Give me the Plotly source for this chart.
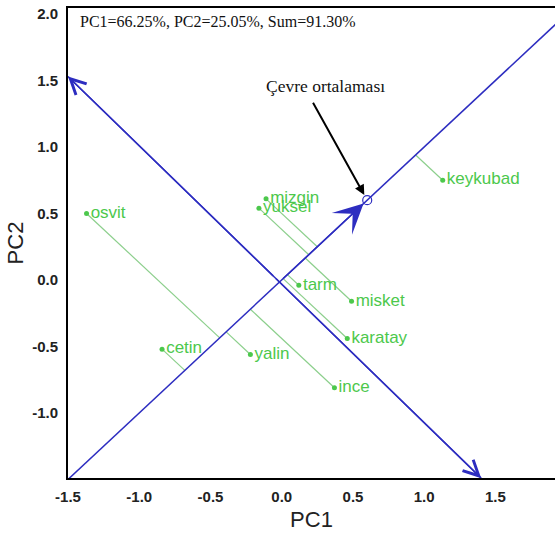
import plotly.graph_objects as go

# ---- data ----
genotypes = ["osvit", "mizgin", "yuksel", "tarm", "misket", "karatay",
             "cetin", "yalin", "ince", "keykubad"]
pc1 = [-1.37, -0.11, -0.16, 0.12, 0.49, 0.46, -0.84, -0.22, 0.37, 1.13]
pc2 = [0.50, 0.61, 0.54, -0.04, -0.16, -0.44, -0.52, -0.56, -0.81, 0.75]

env_mean = [0.60, 0.60]            # average environment (Çevre ortalaması)
ord_x = [-1.50, 1.40]              # AEC ordinate end points
ord_y = [1.53, -1.49]

x_ticks = [-1.5, -1.0, -0.5, 0.0, 0.5, 1.0, 1.5]
y_ticks = [-1.0, -0.5, 0.0, 0.5, 1.0, 1.5, 2.0]
x_range = [-1.5, 1.918]
y_range = [-1.489, 2.045]

info_text = "PC1=66.25%, PC2=25.05%, Sum=91.30%"
env_label = "Çevre ortalaması"

BLUE = "#2d2dc0"
GREEN = "#4cc84c"
LGREEN = "#8ccf8c"

# AEC abscissa direction
ex, ey = env_mean
n = (ex ** 2 + ey ** 2) ** 0.5
ux, uy = ex / n, ey / n

fig = go.Figure()

# projection lines of genotypes onto AEC abscissa
for gx, gy in zip(pc1, pc2):
    t = gx * ux + gy * uy
    fig.add_trace(go.Scatter(x=[gx, t * ux], y=[gy, t * uy], mode="lines",
                             line=dict(color=LGREEN, width=1.2),
                             hoverinfo="skip", showlegend=False))

# AEC abscissa (through origin and average environment)
fig.add_trace(go.Scatter(x=[-3 * ux, 3 * ux], y=[-3 * uy, 3 * uy], mode="lines",
                         line=dict(color=BLUE, width=1.5),
                         hoverinfo="skip", showlegend=False))
# AEC ordinate
fig.add_trace(go.Scatter(x=ord_x, y=ord_y, mode="lines",
                         line=dict(color=BLUE, width=1.5),
                         hoverinfo="skip", showlegend=False))

# average environment circle
fig.add_trace(go.Scatter(x=[ex], y=[ey], mode="markers",
                         marker=dict(symbol="circle-open", size=9,
                                     color=BLUE, line=dict(width=1.2)),
                         hoverinfo="skip", showlegend=False))

# genotype points
fig.add_trace(go.Scatter(x=pc1, y=pc2, mode="markers+text", text=genotypes,
                         textposition="middle right",
                         textfont=dict(family="Liberation Sans", size=17, color=GREEN),
                         marker=dict(color=GREEN, size=5),
                         showlegend=False))

annotations = []
# arrow on AEC abscissa
annotations.append(dict(x=ex, y=ey, ax=0, ay=0, xref="x", yref="y",
                        axref="x", ayref="y", text="", showarrow=True,
                        arrowhead=3, arrowsize=3.3, arrowwidth=1.5,
                        arrowcolor=BLUE, standoff=5))
# arrows at both ends of the ordinate
mx, my = (ord_x[0] + ord_x[1]) / 2, (ord_y[0] + ord_y[1]) / 2
for k in range(2):
    annotations.append(dict(x=ord_x[k], y=ord_y[k], ax=mx, ay=my,
                            xref="x", yref="y", axref="x", ayref="y",
                            text="", showarrow=True, arrowhead=5,
                            arrowsize=2.0, arrowwidth=1.5, arrowcolor=BLUE))
# black pointer to average environment
annotations.append(dict(x=ex, y=ey, ax=-55, ay=-99, xref="x", yref="y",
                        text="", showarrow=True, arrowhead=2, arrowsize=1,
                        arrowwidth=2, arrowcolor="black", standoff=6))
annotations.append(dict(x=0.528, y=0.834, xref="paper", yref="paper",
                        xanchor="center", yanchor="middle",
                        text=env_label, showarrow=False,
                        font=dict(family="Liberation Serif", size=17.5, color="#111")))
annotations.append(dict(x=0.02, y=0.972, xref="paper", yref="paper",
                        xanchor="left", yanchor="middle",
                        text=info_text, showarrow=False,
                        font=dict(family="Liberation Serif", size=16, color="#111")))

fig.update_layout(
    width=555, height=537,
    margin=dict(l=68, r=0, t=8, b=59),
    paper_bgcolor="white", plot_bgcolor="white",
    annotations=annotations,
    xaxis=dict(range=x_range, showgrid=False, zeroline=False, automargin=False,
               showline=True, linecolor="black", linewidth=2, mirror=True,
               tickvals=x_ticks, ticktext=[f"{v:.1f}" for v in x_ticks],
               ticks="", ticklabelstandoff=4,
               tickfont=dict(family="Liberation Sans", size=15, color="#222",
                             weight="bold"),
               title=dict(text="PC1", standoff=8,
                          font=dict(family="Liberation Sans", size=22, color="#222"))),
    yaxis=dict(range=y_range, showgrid=False, zeroline=False, automargin=False,
               showline=True, linecolor="black", linewidth=2,
               tickvals=y_ticks, ticktext=[f"{v:.1f}" for v in y_ticks],
               ticks="", ticklabelstandoff=5,
               tickfont=dict(family="Liberation Sans", size=15, color="#222",
                             weight="bold"),
               title=dict(text="PC2", standoff=2,
                          font=dict(family="Liberation Sans", size=22, color="#222"))),
)

fig.write_html("out.html", config={"displayModeBar": False},
               post_script="document.body.style.margin='0px';")
